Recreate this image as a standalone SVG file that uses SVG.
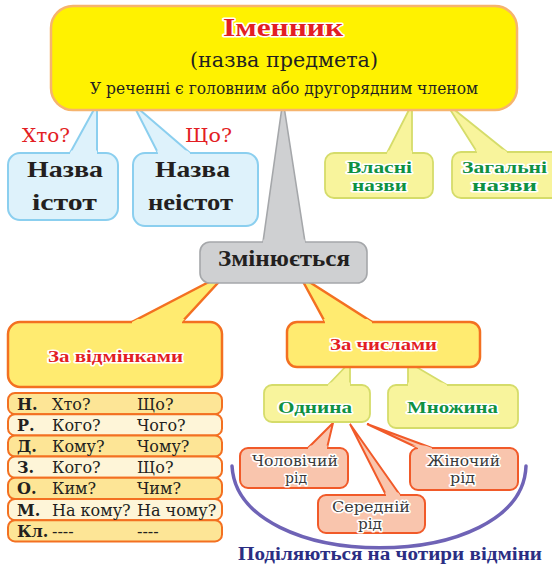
<svg xmlns="http://www.w3.org/2000/svg" width="552" height="568" viewBox="0 0 552 568">
<style>
.t{font-family:"DejaVu Serif","Liberation Serif",serif;}
.bs{font-family:"Liberation Serif","DejaVu Serif",serif;font-weight:bold;}
.b{font-weight:bold;}
.halo{paint-order:stroke;stroke:#fff;stroke-width:3;stroke-linejoin:round;}
.dark{fill:#231f20;}
.red{fill:#e31e24;}
.green{fill:#0f9142;}
.gender{fill:#3a3a3a;}
.top{fill:#fff200;stroke:#f6b46e;stroke-width:2.5;}
.blue{fill:#def2fb;stroke:#8bcfef;stroke-width:2;}
.bluef{fill:#def2fb;}
.grn{fill:#f8f49c;stroke:#d5dc6a;stroke-width:1.8;}
.grnf{fill:#f8f49c;}
.gray{fill:#cfd0d2;stroke:#a5a7aa;stroke-width:1.6;}
.grayf{fill:#cfd0d2;}
.org{fill:#ffeb70;stroke:#f37021;stroke-width:2.5;}
.orgf{fill:#ffeb70;}
.gen{fill:#f9c5ad;stroke:#f15a29;stroke-width:2;}
.genf{fill:#f9c5ad;}
.row1{fill:#fde596;stroke:#f37021;stroke-width:2;}
.row2{fill:#fef5d8;stroke:#f37021;stroke-width:2;}
.cell{font-size:16px;}
</style>
<defs>
<clipPath id="c153" clipPathUnits="userSpaceOnUse"><rect x="0" y="150.5" width="552" height="5.5"/></clipPath>
<clipPath id="c152" clipPathUnits="userSpaceOnUse"><rect x="0" y="149.5" width="552" height="5.5"/></clipPath>
<clipPath id="c242" clipPathUnits="userSpaceOnUse"><rect x="0" y="239.5" width="552" height="5.5"/></clipPath>
<clipPath id="c322" clipPathUnits="userSpaceOnUse"><rect x="0" y="319" width="552" height="6.5"/></clipPath>
<clipPath id="c385" clipPathUnits="userSpaceOnUse"><rect x="0" y="382.5" width="552" height="5.5"/></clipPath>
<clipPath id="c448" clipPathUnits="userSpaceOnUse"><rect x="0" y="445.5" width="552" height="5.5"/></clipPath>
<clipPath id="c495" clipPathUnits="userSpaceOnUse"><rect x="0" y="492.5" width="552" height="5.5"/></clipPath>
</defs>
<rect width="552" height="568" fill="#ffffff"/>

<g id="connectors">
<polygon class="blue" points="97,104 70,153 70,159 97,159"/>
<polygon class="blue" points="133,104 158,153 158,159 190,159 190,153"/>
<polygon class="grn" points="412,104 387,153 387,159 412,159"/>
<polygon class="grn" points="446,103 477,152 477,158 507,158 507,152"/>
<polygon class="gray" points="283,100 263,242 263,248 305,248 305,242"/>
<polygon class="org" points="228,272 132,322 132,328 182,328 182,322"/>
<polygon class="org" points="300,276 325,322 325,328 372,328 372,322"/>
<polygon class="grn" points="350,362 328,385 328,391 350,391"/>
<polygon class="grn" points="408,362 408,391 447,391 447,385"/>
<polygon class="gen" points="333,423 308,448 308,454 327,454 327,448"/>
<polygon class="gen" points="350,424 386,495 386,501 400,501 400,495"/>
<polygon class="gen" points="367,424 418,448 418,454 432,454 432,448"/>
<path d="M232,466 C238,575 522,575 526,466" fill="none" stroke="#6f63b6" stroke-width="3.5" stroke-linecap="round"/>
</g>

<g id="node-istot">
<rect class="blue" x="8" y="153" width="110" height="67" rx="12"/>
<polygon class="bluef" points="97,104 70,153 70,159 97,159" clip-path="url(#c153)"/>
<text class="bs dark" x="65" y="177" font-size="24" text-anchor="middle" textLength="76" lengthAdjust="spacingAndGlyphs">Назва</text>
<text class="bs dark" x="64.5" y="210" font-size="24" text-anchor="middle" textLength="65" lengthAdjust="spacingAndGlyphs">істот</text>
</g>

<g id="node-neistot">
<rect class="blue" x="133" y="153" width="125" height="73" rx="12"/>
<polygon class="bluef" points="133,104 158,153 158,159 190,159 190,153" clip-path="url(#c153)"/>
<text class="bs dark" x="192.5" y="177" font-size="24" text-anchor="middle" textLength="75" lengthAdjust="spacingAndGlyphs">Назва</text>
<text class="bs dark" x="190.5" y="210" font-size="24" text-anchor="middle" textLength="85" lengthAdjust="spacingAndGlyphs">неістот</text>
</g>

<g id="node-vlasni">
<rect class="grn" x="325" y="153" width="108" height="45" rx="9"/>
<polygon class="grnf" points="412,104 387,153 387,159 412,159" clip-path="url(#c153)"/>
<text class="bs green halo" x="379.5" y="173" font-size="16" text-anchor="middle" textLength="65" lengthAdjust="spacingAndGlyphs">Власні</text>
<text class="bs green halo" x="379.5" y="191" font-size="16" text-anchor="middle" textLength="55" lengthAdjust="spacingAndGlyphs">назви</text>
</g>

<g id="node-zahalni">
<rect class="grn" x="452" y="152" width="110" height="46" rx="9"/>
<polygon class="grnf" points="446,103 477,152 477,158 507,158 507,152" clip-path="url(#c152)"/>
<text class="bs green halo" x="504.5" y="173" font-size="16" text-anchor="middle" textLength="85" lengthAdjust="spacingAndGlyphs">Загальні</text>
<text class="bs green halo" x="504.5" y="191" font-size="16" text-anchor="middle" textLength="65" lengthAdjust="spacingAndGlyphs">назви</text>
</g>

<g id="node-zminiuietsia">
<rect class="gray" x="200" y="242" width="167" height="41" rx="10"/>
<polygon class="grayf" points="283,100 263,242 263,248 305,248 305,242" clip-path="url(#c242)"/>
<text class="bs dark" x="284" y="266" font-size="24" text-anchor="middle" textLength="132" lengthAdjust="spacingAndGlyphs">Змінюється</text>
</g>

<g id="node-imennyk">
<rect class="top" x="51" y="6" width="466" height="104" rx="22"/>
<text class="bs red halo" x="283" y="36" font-size="25" text-anchor="middle" textLength="120" lengthAdjust="spacingAndGlyphs">Іменник</text>
<text class="t dark" x="284" y="67" font-size="20" text-anchor="middle" textLength="188" lengthAdjust="spacingAndGlyphs">(назва предмета)</text>
<text class="t dark" x="284" y="94" font-size="16" text-anchor="middle" textLength="388" lengthAdjust="spacingAndGlyphs">У реченні є головним або другорядним членом</text>
</g>

<g id="label-khto">
<text class="t red" x="22" y="142" font-size="18" textLength="48" lengthAdjust="spacingAndGlyphs">Хто?</text>
</g>
<g id="label-shcho">
<text class="t red" x="185" y="142" font-size="18" textLength="47" lengthAdjust="spacingAndGlyphs">Що?</text>
</g>

<g id="node-za-vidminkamy">
<rect class="org" x="8" y="322" width="214" height="65" rx="12"/>
<polygon class="orgf" points="228,272 132,322 132,328 182,328 182,322" clip-path="url(#c322)"/>
<text class="bs red halo" x="115.5" y="362" font-size="17" text-anchor="middle" textLength="135" lengthAdjust="spacingAndGlyphs">За відмінками</text>
</g>

<g id="node-za-chyslamy">
<rect class="org" x="287" y="322" width="193" height="45" rx="10"/>
<polygon class="orgf" points="300,276 325,322 325,328 372,328 372,322" clip-path="url(#c322)"/>
<text class="bs red halo" x="383.5" y="350" font-size="17" text-anchor="middle" textLength="107" lengthAdjust="spacingAndGlyphs">За числами</text>
</g>

<g id="node-odnyna">
<rect class="grn" x="264" y="385" width="106" height="37" rx="8"/>
<polygon class="grnf" points="350,362 328,385 328,391 350,391" clip-path="url(#c385)"/>
<text class="bs green halo" x="315" y="413" font-size="17" text-anchor="middle" textLength="74" lengthAdjust="spacingAndGlyphs">Однина</text>
</g>

<g id="node-mnozhyna">
<rect class="grn" x="388" y="385" width="130" height="43" rx="8"/>
<polygon class="grnf" points="408,362 408,391 447,391 447,385" clip-path="url(#c385)"/>
<text class="bs green halo" x="452.5" y="413" font-size="17" text-anchor="middle" textLength="91" lengthAdjust="spacingAndGlyphs">Множина</text>
</g>

<g id="node-cholovichyi">
<rect class="gen" x="240" y="448" width="108" height="40" rx="8"/>
<polygon class="genf" points="333,423 308,448 308,454 327,454 327,448" clip-path="url(#c448)"/>
<text class="t gender halo" x="295" y="466" font-size="14" text-anchor="middle" textLength="86" lengthAdjust="spacingAndGlyphs">Чоловічий</text>
<text class="t gender halo" x="296" y="483" font-size="14" text-anchor="middle" textLength="22" lengthAdjust="spacingAndGlyphs">рід</text>
</g>

<g id="node-serednii">
<rect class="gen" x="318" y="495" width="107" height="38" rx="8"/>
<polygon class="genf" points="350,424 386,495 386,501 400,501 400,495" clip-path="url(#c495)"/>
<text class="t gender halo" x="371" y="512" font-size="14" text-anchor="middle" textLength="78" lengthAdjust="spacingAndGlyphs">Середній</text>
<text class="t gender halo" x="370" y="529" font-size="14" text-anchor="middle" textLength="24" lengthAdjust="spacingAndGlyphs">рід</text>
</g>

<g id="node-zhinochyi">
<rect class="gen" x="410" y="448" width="108" height="42" rx="8"/>
<polygon class="genf" points="367,424 418,448 418,454 432,454 432,448" clip-path="url(#c448)"/>
<text class="t gender halo" x="463.5" y="466" font-size="14" text-anchor="middle" textLength="73" lengthAdjust="spacingAndGlyphs">Жіночий</text>
<text class="t gender halo" x="462.5" y="483" font-size="14" text-anchor="middle" textLength="25" lengthAdjust="spacingAndGlyphs">рід</text>
</g>

<g id="table-vidminky">
<rect class="row1" x="8" y="393" width="214" height="21.2" rx="7"/>
<rect class="row2" x="8" y="414.2" width="214" height="21.2" rx="7"/>
<rect class="row1" x="8" y="435.4" width="214" height="21.2" rx="7"/>
<rect class="row2" x="8" y="456.6" width="214" height="21.2" rx="7"/>
<rect class="row1" x="8" y="477.8" width="214" height="21.2" rx="7"/>
<rect class="row2" x="8" y="499" width="214" height="21.2" rx="7"/>
<rect class="row1" x="8" y="520.2" width="214" height="21.2" rx="7"/>
<g class="t cell dark">
<text x="17" y="409.6" font-weight="bold">Н.</text><text x="52" y="409.6">Хто?</text><text x="137" y="409.6">Що?</text>
<text x="17" y="430.8" font-weight="bold">Р.</text><text x="52" y="430.8">Кого?</text><text x="137" y="430.8">Чого?</text>
<text x="17" y="452" font-weight="bold">Д.</text><text x="52" y="452">Кому?</text><text x="137" y="452">Чому?</text>
<text x="17" y="473.2" font-weight="bold">З.</text><text x="52" y="473.2">Кого?</text><text x="137" y="473.2">Що?</text>
<text x="17" y="494.4" font-weight="bold">О.</text><text x="52" y="494.4">Ким?</text><text x="137" y="494.4">Чим?</text>
<text x="17" y="515.6" font-weight="bold">М.</text><text x="52" y="515.6">На кому?</text><text x="137" y="515.6">На чому?</text>
<text x="17" y="536.8" font-weight="bold">Кл.</text><text x="52" y="536.8">----</text><text x="137" y="536.8">----</text>
</g>
</g>

<g id="label-podiliaiutsia">
<text class="bs" x="390" y="560" font-size="18" fill="#2b2e83" text-anchor="middle" textLength="304" lengthAdjust="spacingAndGlyphs">Поділяються на чотири відміни</text>
</g>
</svg>
